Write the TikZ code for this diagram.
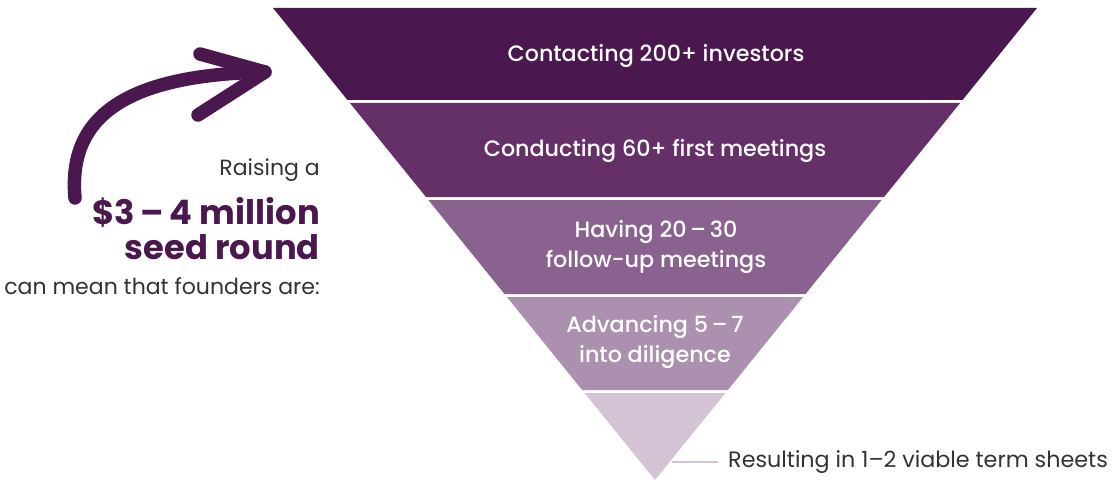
\documentclass[tikz,border=0pt]{standalone}
\usepackage{fontspec}
\setmainfont{Poppins}
\newfontfamily\popmed{Poppins Medium}
\usepackage{tikz}
\usetikzlibrary{positioning,calc}
\definecolor{funA}{HTML}{4A174F}
\definecolor{funB}{HTML}{652F68}
\definecolor{funC}{HTML}{8A6290}
\definecolor{funD}{HTML}{AB91AF}
\definecolor{funE}{HTML}{D3C3D5}
\definecolor{inktext}{HTML}{333333}

\begin{document}
\begin{tikzpicture}[
    x=0.03cm, y=-0.03cm,
    stage/.style={text=white, font=\popmed\fontsize{19}{25.6}\selectfont, align=center, inner sep=0pt},
    intro/.style={text=inktext, font=\fontsize{18.8}{22}\selectfont, anchor=east, inner sep=0pt},
    big/.style={text=funA, font=\bfseries\fontsize{28.8}{32}\selectfont, anchor=east, inner sep=0pt},
    brush/.style={funA, line width=11.5pt, line cap=round, line join=round}
]
    \useasboundingbox (0,0) rectangle (1120,482);

    % Funnel
    \foreach \yt/\yb/\col in {8/100/funA, 103/197/funB, 200/294/funC, 297/390/funD, 393/480/funE} {
        \pgfmathsetmacro\wt{0.80932*(480-\yt)}
        \pgfmathsetmacro\wb{0.80932*(480-\yb)}
        \fill[\col] (655-\wt,\yt) -- (655+\wt,\yt) -- (655+\wb,\yb) -- (655-\wb,\yb) -- cycle;
    }
    \node[stage] (s1) at (656,56) {Contacting 200+ investors};
    \node[stage] (s2) at (655,151) {Conducting 60+ first meetings};
    \node[stage] (s3) at (656,247) {Having 20\,–\,30\\follow-up meetings};
    \node[stage] (s4) at (655,342) {Advancing 5\,–\,7\\into diligence};

    % Result
    \coordinate (lead) at (672,462);
    \node[text=inktext, font=\fontsize{19}{22}\selectfont, anchor=west, inner sep=0pt] (res) at (728,462) {Resulting in 1–2 viable term sheets};
    \draw[funE, line width=1.5pt] (lead) -- ([xshift=-0.3cm]res.west);

    % Left
    \node[intro] (raise) at (320,170) {Raising a};
    \node[big] (amount) at (320,212) {\$3\,–\,4 million};
    \node[big] (seed) at (320,247) {seed round};
    \node[intro] (mean) at (320,286) {can mean that founders are:};

    % Arrow
    \coordinate (tail) at (75,198);
    \coordinate (tip) at (265,72);
    \draw[brush] (tail) .. controls (68,120) and (120,75) .. (tip);
    \draw[brush] (200,54) -- (tip) -- (198,115);
\end{tikzpicture}
\end{document}
